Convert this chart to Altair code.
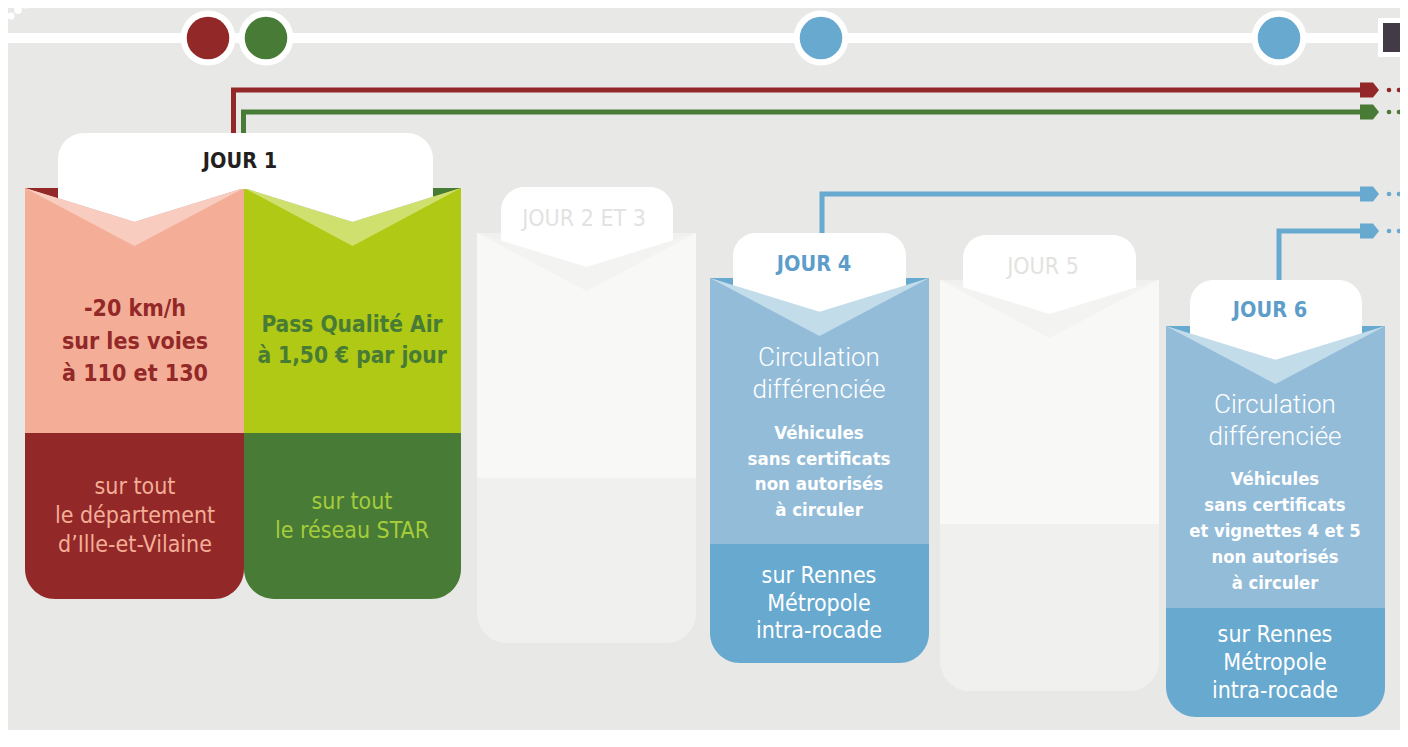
import altair as alt
import pandas as pd

# ------------------------------------------------------------------ content
day_labels = ["JOUR 1", "JOUR 2 ET 3", "JOUR 4", "JOUR 5", "JOUR 6"]
day_active = [True, False, True, False, True]
j1_headline_red = ["-20 km/h", "sur les voies", "à 110 et 130"]
j1_headline_green = ["Pass Qualité Air", "à 1,50 € par jour"]
j1_scope_red = ["sur tout", "le département", "d’Ille-et-Vilaine"]
j1_scope_green = ["sur tout", "le réseau STAR"]
circ_title = ["Circulation", "différenciée"]
j4_rule = ["Véhicules", "sans certificats", "non autorisés", "à circuler"]
j6_rule = ["Véhicules", "sans certificats", "et vignettes 4 et 5", "non autorisés", "à circuler"]
scope_metro = ["sur Rennes", "Métropole", "intra-rocade"]
measures = ["red", "green", "blue", "blue"]  # timeline connectors (J1 red, J1 green, J4, J6)

# ------------------------------------------------------------------ styles
BG = "#e8e9e6"
PAL = {
    "red":   dict(dark="#922828", light="#f4ae97", band="#f8cdbf"),
    "green": dict(dark="#477b36", light="#afc914", band="#cfe06f"),
    "blue":  dict(dark="#68a9cf", light="#93bcd9", band="#c3dcea"),
    "ghost": dict(dark="#f0f0ee", light="#f8f8f7", band="#f3f3f2"),
}
FONT = "Liberation Sans Narrow, DejaVu Sans Condensed, Roboto Condensed, Roboto, sans-serif"
LIGHT_FONT = "Roboto, Open Sans, sans-serif"

# ------------------------------------------------------------------ layout (reference pixel space)
# per card: halves (left, right, palette), tab (left, right, top), body top, split, bottom
layout = [
    dict(halves=[(25, 244, "red"), (244, 461, "green")], tab=(58, 433, 133), top=188, split=433, bottom=599, title=(240, 162)),
    dict(halves=[(477, 696, "ghost")], tab=(501, 673, 187), top=233, split=478, bottom=643, title=(584, 219)),
    dict(halves=[(710, 929, "blue")], tab=(733, 906, 233), top=278, split=544, bottom=663, title=(814, 265)),
    dict(halves=[(940, 1159, "ghost")], tab=(963, 1136, 235), top=280, split=524, bottom=691, title=(1043, 267)),
    dict(halves=[(1166, 1385, "blue")], tab=(1190, 1362, 280), top=326, split=608, bottom=717, title=(1270, 311)),
]
V_UP, V_LOW = 34, 58

W, H = 1392, 722
X0, Y0 = 8, 8
xs = alt.Scale(domain=[X0, X0 + W], nice=False, zero=False)
ys = alt.Scale(domain=[Y0, Y0 + H], nice=False, zero=False, reverse=True)


def X(f="x"):
    return alt.X(f"{f}:Q", scale=xs, axis=None)


def Y(f="y"):
    return alt.Y(f"{f}:Q", scale=ys, axis=None, stack=None)


def vline(L, R, top, depth, x):
    c = (L + R) / 2
    return top + depth * (1 - abs(x - c) / (c - L))


body, light, band, tabs, white = [], [], [], [], []
for i, card in enumerate(layout):
    top = card["top"]
    tl, tr, tt = card["tab"]
    wx = [tl]
    for j, (L, R, p) in enumerate(card["halves"]):
        pal = PAL[p]
        sid = f"{i}-{j}"
        body.append(dict(x=L, x2=R, y=top, y2=card["bottom"], fill=pal["dark"]))
        c = (L + R) / 2
        for x in (L, c, R):
            light.append(dict(id=sid, x=x, y=vline(L, R, top, V_UP, x), y2=card["split"], fill=pal["light"]))
            band.append(dict(id=sid, x=x, y=vline(L, R, top, V_UP, x), y2=vline(L, R, top, V_LOW, x), fill=pal["band"]))
        wx += [c, R]
    wx[-1] = tr
    tabs.append(dict(x=tl, x2=tr, y=tt, y2=top + 1))
    for x in wx:
        for (L, R, p) in card["halves"]:
            if L <= x <= R:
                yy = vline(L, R, top, V_UP, x)
        white.append(dict(id=str(i), x=x, y=top - 1, y2=yy))

base_layers = []
base_layers.append(
    alt.Chart(pd.DataFrame(body)).mark_rect(cornerRadiusBottomLeft=30, cornerRadiusBottomRight=30)
    .encode(x=X(), x2="x2:Q", y=Y(), y2="y2:Q", color=alt.Color("fill:N", scale=None))
)
for rows in (light, band):
    base_layers.append(
        alt.Chart(pd.DataFrame(rows)).mark_area(interpolate="linear", opacity=1)
        .encode(x=X(), y=Y(), y2="y2:Q", color=alt.Color("fill:N", scale=None), detail="id:N")
    )
base_layers.append(
    alt.Chart(pd.DataFrame(tabs)).mark_rect(cornerRadiusTopLeft=26, cornerRadiusTopRight=26, color="white")
    .encode(x=X(), x2="x2:Q", y=Y(), y2="y2:Q")
)
base_layers.append(
    alt.Chart(pd.DataFrame(white)).mark_area(interpolate="linear", color="white", opacity=1)
    .encode(x=X(), y=Y(), y2="y2:Q", detail="id:N")
)

# ------------------------------------------------------------------ timeline
conn_geo = [(233.5, 90, 150), (243.5, 112, 150), (822, 194, 250), (1279, 231, 300)]
ARROW_X = 1362
conn_rows, arrow_rows, dot_rows = [], [], []
for k, (m, (vx, hy, vy)) in enumerate(zip(measures, conn_geo)):
    col = PAL[m]["dark"]
    for o, (x, y) in enumerate([(vx, vy), (vx, hy), (ARROW_X, hy)]):
        conn_rows.append(dict(id=k, o=o, x=x, y=y, c=col))
    arrow_rows.append(dict(x=1369.5, y=hy, c=col))
    for dx in (1389, 1399):
        dot_rows.append(dict(x=dx, y=hy, c=col))

circle_x = [208, 266, 821, 1279]
circle_c = ["red", "green", "blue", "blue"]
ring_rows = [dict(x=x, y=38, s=3.1416 * 31 ** 2, c="white") for x in circle_x]
ring_rows += [dict(x=x, y=38, s=3.1416 * 24 ** 2, c=PAL[c]["dark"]) for x, c in zip(circle_x, circle_c)]
ring_rows += [dict(x=11, y=16, s=50, c="white"), dict(x=18, y=10, s=60, c="white"), dict(x=26, y=5, s=50, c="white")]

timeline = [
    alt.Chart(pd.DataFrame([dict(x=6, x2=1390, y=38)])).mark_rule(color="white", strokeWidth=10)
    .encode(x=X(), x2="x2:Q", y=Y()),
    alt.Chart(pd.DataFrame(conn_rows)).mark_line(strokeWidth=5, strokeJoin="miter", strokeCap="butt")
    .encode(x=X(), y=Y(), detail="id:N", order="o:Q", color=alt.Color("c:N", scale=None)),
    alt.Chart(pd.DataFrame(arrow_rows)).mark_point(
        shape="M -1 -0.78 L 0.37 -0.78 L 1 0 L 0.37 0.78 L -1 0.78 Z", filled=True, size=361, opacity=1, strokeWidth=0)
    .encode(x=X(), y=Y(), color=alt.Color("c:N", scale=None)),
    alt.Chart(pd.DataFrame(dot_rows)).mark_circle(size=22, opacity=1)
    .encode(x=X(), y=Y(), color=alt.Color("c:N", scale=None)),
    alt.Chart(pd.DataFrame(ring_rows)).mark_circle(opacity=1)
    .encode(x=X(), y=Y(), size=alt.Size("s:Q", scale=None), color=alt.Color("c:N", scale=None)),
    alt.Chart(pd.DataFrame([dict(x=1378, x2=1420, y=18, y2=57, c="white"),
                            dict(x=1383, x2=1420, y=23, y2=52, c="#433a47")]))
    .mark_rect().encode(x=X(), x2="x2:Q", y=Y(), y2="y2:Q", color=alt.Color("c:N", scale=None)),
]

# ------------------------------------------------------------------ text
def lines(texts, cx, y0, step, color, size):
    return [dict(x=cx, y=y0 + i * step, t=t, c=color, s=size) for i, t in enumerate(texts)]


title_rows = []
for lab, act, card in zip(day_labels, day_active, layout):
    tx, ty = card["title"]
    col = "#231f20" if lab == "JOUR 1" else ("#5d9dc9" if act else "#e2e3e1")
    title_rows.append(dict(x=tx, y=ty, t=lab, c=col, s=21.5 if act else 23, act=act))
bold_rows = [r for r in title_rows if r["act"]]
reg_rows = [r for r in title_rows if not r["act"]]

bold_rows += lines(j1_headline_red, 135, 309, 32.5, PAL["red"]["dark"], 23)
bold_rows += lines(j1_headline_green, 352, 325, 31, PAL["green"]["dark"], 22.5)
bold_rows += lines(j4_rule, 819, 433, 25.7, "white", 18.5)
bold_rows += lines(j6_rule, 1275, 480, 26, "white", 18.3)

reg_rows += lines(j1_scope_red, 135, 487, 29, PAL["red"]["light"], 23)
reg_rows += lines(j1_scope_green, 352, 502, 28.5, "#a6cc3c", 23)
reg_rows += lines(scope_metro, 819, 576, 27.5, "white", 23)
reg_rows += lines(scope_metro, 1275, 635, 28, "white", 23)

light_rows = lines(circ_title, 819, 358, 32, "white", 26) + lines(circ_title, 1275, 405, 32, "white", 26)


def text_layer(rows, weight, font=FONT):
    return alt.Chart(pd.DataFrame(rows)).mark_text(
        font=font, fontWeight=weight, align="center", baseline="middle"
    ).encode(x=X(), y=Y(), text="t:N", color=alt.Color("c:N", scale=None), size=alt.Size("s:Q", scale=None))


texts = [text_layer(bold_rows, "bold"), text_layer(reg_rows, "normal"), text_layer(light_rows, 300, LIGHT_FONT)]

chart = alt.layer(*timeline, *base_layers, *texts).properties(
    width=W, height=H, padding=0, autosize=alt.AutoSizeParams(type="none"), background=BG
).configure_view(stroke=None, fill=BG)

chart.save("out.html", embed_options={"renderer": "svg", "actions": False})
